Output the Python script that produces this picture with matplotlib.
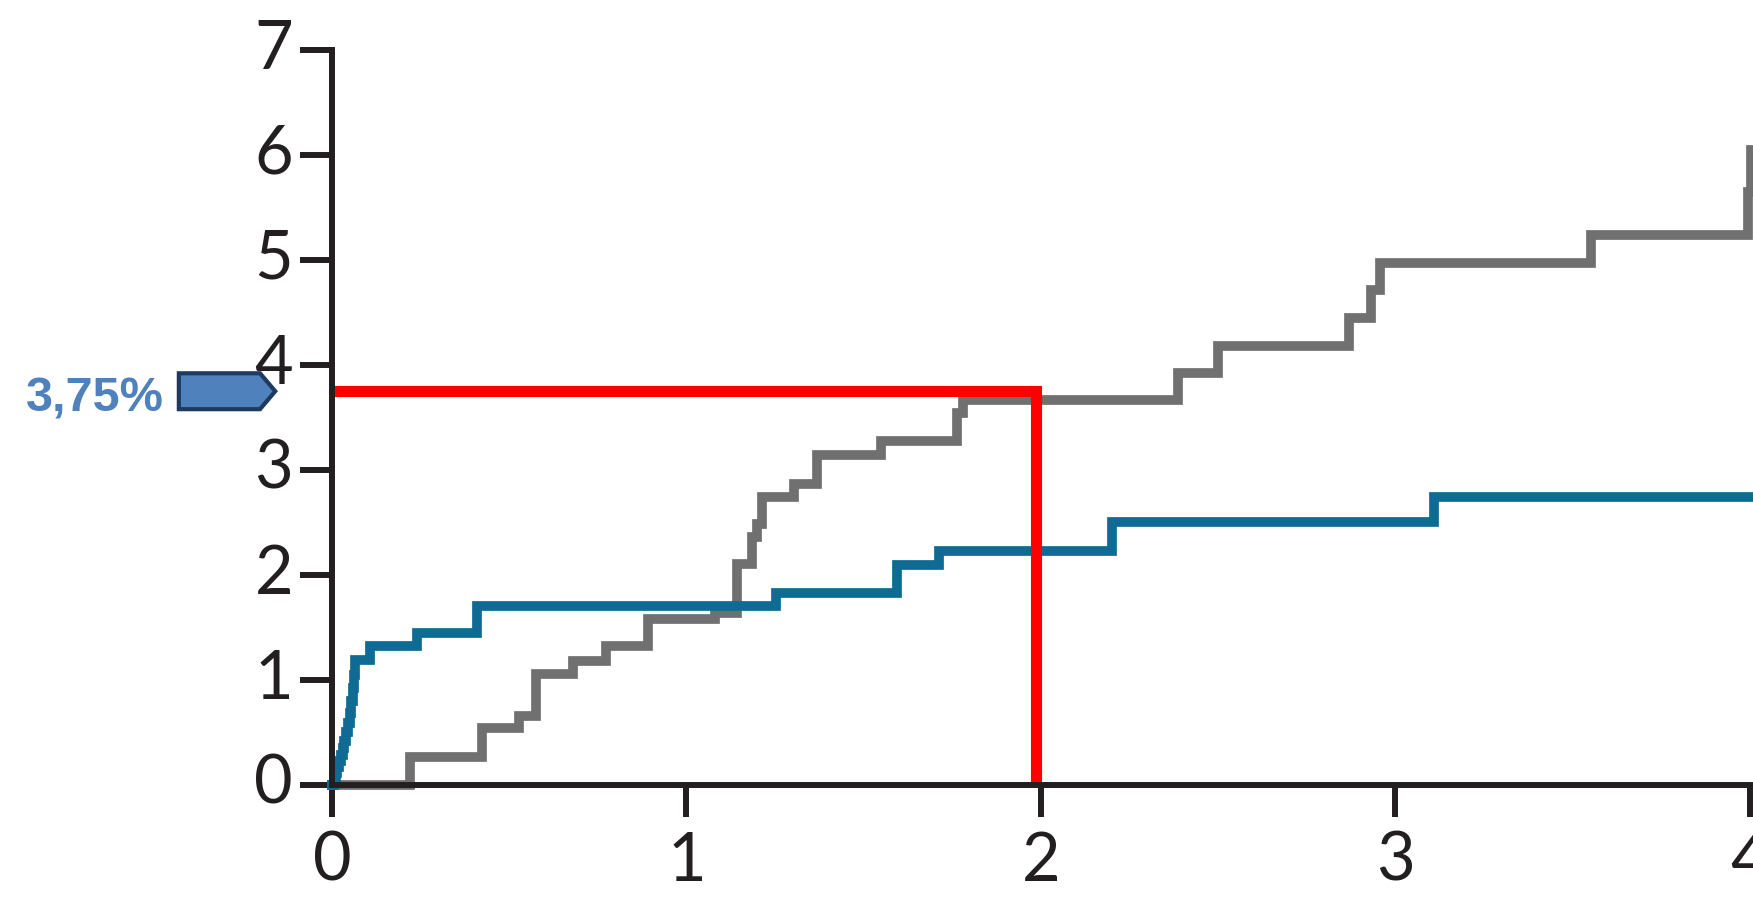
import matplotlib
matplotlib.use('Agg')
import matplotlib.pyplot as plt
from matplotlib.patches import Polygon
from matplotlib.transforms import ScaledTranslation

# cumulative incidence (%) against time (years), step curves
gray_t = [0, 0.22, 0.422, 0.528, 0.575, 0.681, 0.773, 0.892, 1.080, 1.142, 1.184,
          1.198, 1.212, 1.304, 1.369, 1.549, 1.762, 1.781, 2.387, 2.498, 2.870,
          2.930, 2.955, 3.551, 3.993, 4.004, 4.01]
gray_y = [0, 0.27, 0.54, 0.657, 1.054, 1.184, 1.324, 1.578, 1.64, 2.10, 2.36,
          2.49, 2.745, 2.87, 3.14, 3.276, 3.54, 3.667, 3.92, 4.18, 4.45,
          4.71, 4.97, 5.24, 5.65, 6.05, 6.05]

blue_t = [0, 0.005, 0.010, 0.015, 0.020, 0.025, 0.030, 0.035, 0.040, 0.045, 0.050,
          0.054, 0.058, 0.062, 0.065, 0.107, 0.239, 0.410, 1.252, 1.593, 1.713,
          2.200, 3.110, 4.01]
blue_y = [0, 0.05, 0.11, 0.17, 0.23, 0.29, 0.35, 0.42, 0.50, 0.59, 0.69,
          0.80, 0.92, 1.05, 1.19, 1.32, 1.45, 1.70, 1.83, 2.095, 2.23,
          2.50, 2.745, 2.745]

# reading at 2 years
mark_x = 1.986
mark_y = 3.75
mark_label = '3,75%'

x_ticks = [0, 1, 2, 3, 4]
y_ticks = [0, 1, 2, 3, 4, 5, 6, 7]

axis_col = '#231f20'
tick_font = ['Lato', 'DejaVu Sans']

fig = plt.figure(figsize=(17.53, 9.09), dpi=100)
ax = fig.add_axes([0, 0, 1, 1])
ax.set_xlim(-0.9365, 4.0085)
ax.set_ylim(-1.181, 7.476)

ax.step(gray_t, gray_y, where='post', color='#707070', lw=7,
        solid_joinstyle='miter', zorder=2)
ax.step(blue_t, blue_y, where='post', color='#0f6a94', lw=7,
        solid_joinstyle='miter', zorder=2.1)

# red guide lines
ax.plot([0, mark_x, mark_x], [mark_y, mark_y, 0], color='#ff0000', lw=8,
        solid_joinstyle='miter', solid_capstyle='butt', zorder=2.2)

# axes
for side in ['top', 'right']:
    ax.spines[side].set_visible(False)
for side in ['left', 'bottom']:
    ax.spines[side].set_position(('data', 0))
    ax.spines[side].set_linewidth(4.3)
    ax.spines[side].set_color(axis_col)
ax.spines['left'].set_bounds(0, 7)
ax.spines['bottom'].set_bounds(0, 4.0085)

ax.set_xticks(x_ticks)
ax.set_yticks(y_ticks)
ax.tick_params(direction='out', length=23, width=4.3, color=axis_col,
               labelsize=48, labelcolor=axis_col)
ax.tick_params(axis='x', pad=10)
ax.tick_params(axis='y', pad=5)
for lab in ax.get_xticklabels() + ax.get_yticklabels():
    lab.set_family(tick_font)
for lab in ax.get_yticklabels():
    lab.set_transform(lab.get_transform() + ScaledTranslation(0, 0.06, fig.dpi_scale_trans))

# callout arrow with the value
h = 0.171
x0, x_pt, x_tip = -0.432, -0.203, -0.160
arrow = Polygon([(x0, mark_y - h), (x_pt, mark_y - h), (x_tip, mark_y),
                 (x_pt, mark_y + h), (x0, mark_y + h)], closed=True,
                facecolor='#4f81bd', edgecolor='#1f3a60', lw=3,
                joinstyle='miter', zorder=5, clip_on=False)
ax.add_patch(arrow)
ax.text(-0.474, mark_y - 0.03, mark_label, ha='right', va='center_baseline',
        fontsize=35, fontweight='bold', color='#4f81bd',
        family=['Liberation Sans', 'DejaVu Sans'])

fig.savefig('out.png', dpi=100, facecolor='white')
